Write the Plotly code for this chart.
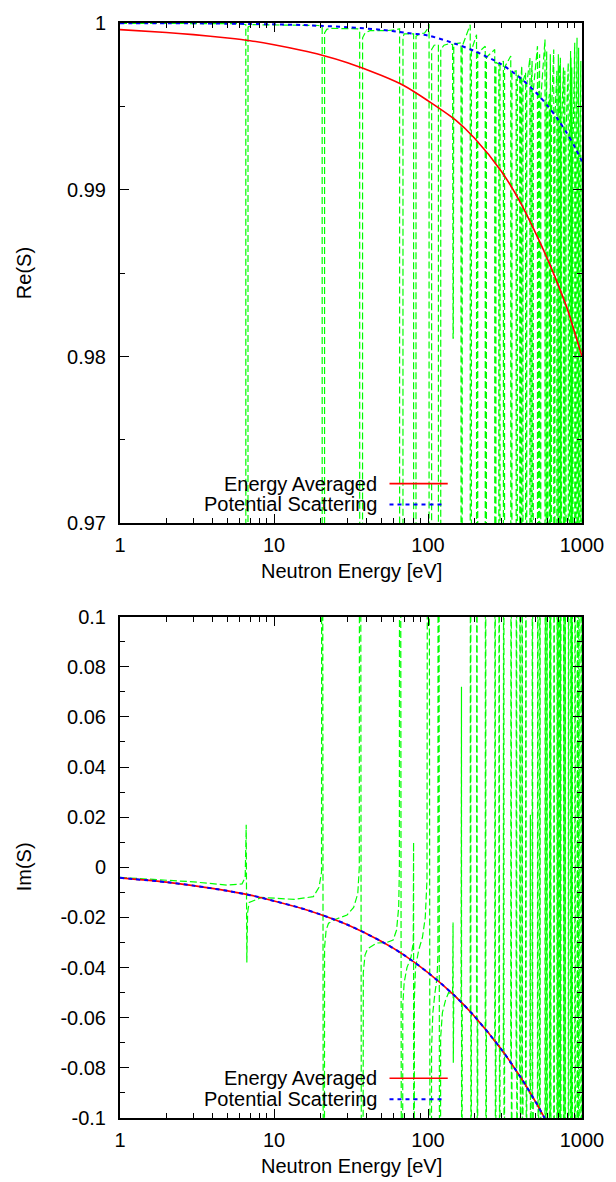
import plotly.graph_objects as go

# ---------------- data ----------------
energy = [1, 2, 3, 5, 7, 10, 15, 20, 30, 50, 70, 100, 150, 200, 300, 400, 500, 600, 700, 800, 900, 1000]
re_avg = [0.99960, 0.99943, 0.99930, 0.99910, 0.99894, 0.99870, 0.99837, 0.99810, 0.99762, 0.99685,
          0.99624, 0.99534, 0.99420, 0.99310, 0.99110, 0.98920, 0.98740, 0.98580, 0.98430, 0.98290,
          0.98140, 0.98000]
re_pot = [0.99999, 0.99998, 0.99998, 0.99996, 0.99994, 0.99992, 0.99988, 0.99983, 0.99975, 0.99959,
          0.99942, 0.99925, 0.99876, 0.99832, 0.99752, 0.99668, 0.99585, 0.99502, 0.99420, 0.99338,
          0.99255, 0.99170]
im_avg = [-0.0042, -0.0059, -0.0073, -0.0094, -0.0111, -0.0134, -0.0163, -0.0188, -0.0229, -0.0296,
          -0.0350, -0.0420, -0.0514, -0.0594, -0.0727, -0.0838, -0.0936, -0.1024, -0.1105, -0.1180,
          -0.1250, -0.1316]
im_pot = [-0.0042, -0.0059, -0.0073, -0.0094, -0.0111, -0.0134, -0.0163, -0.0188, -0.0229, -0.0296,
          -0.0350, -0.0420, -0.0514, -0.0594, -0.0727, -0.0838, -0.0936, -0.1024, -0.1105, -0.1180,
          -0.1250, -0.1316]

# resonance curve below ~140 eV, read point by point
green_re_low_E = [1.0, 6.0, 6.56, 6.62, 6.72, 6.78, 7.2, 19.5, 20.55, 20.7, 21.1, 21.3, 22.0, 23.5,
                  35.0, 36.0, 36.3, 37.2, 37.6, 39.0, 42.0, 55.0, 62.0, 65.4, 65.8, 68.3, 68.8, 70.0,
                  79.5, 80.6, 81.0, 83.0, 83.6, 88.0, 95.0, 98.5, 101.6, 102.0, 105.0, 105.6, 109.7,
                  115.0, 116.8, 117.3, 120.5, 121.0, 127.0, 136.0]
green_re_low_V = [0.99998, 0.99996, 0.99990, 0.40, 0.40, 0.99975, 0.99990, 0.99985, 0.99975, 0.40,
                  0.40, 0.99941, 0.99962, 0.99968, 0.99965, 0.99950, 0.40, 0.40, 0.99911, 0.99940,
                  0.99954, 0.99955, 0.99960, 0.99965, 0.40, 0.40, 0.99915, 0.99935, 0.99935, 0.99935,
                  0.40, 0.40, 0.99920, 0.99935, 0.99940, 0.99960, 0.99994, 0.40, 0.40, 0.99841,
                  0.99867, 0.99870, 0.99870, 0.40, 0.40, 0.99841, 0.99867, 0.99875]
green_im_low_E = [1.0, 3.0, 5.0, 6.2, 6.50, 6.60, 6.66, 6.74, 6.9, 8.3, 13.6, 18.0, 19.6, 20.35,
                  20.5, 21.1, 21.3, 21.8, 22.6, 24.5, 29.8, 32.9, 35.0, 35.8, 36.1, 37.4, 38.0, 39.0,
                  40.5, 46.4, 53.8, 59.4, 62.5, 64.5, 65.2, 65.6, 68.0, 68.6, 70.0, 73.0, 77.5, 80.2,
                  80.6, 81.0, 81.6, 83.0, 87.0, 92.0, 96.0, 98.5, 100.5, 104.5, 105.5, 107.5, 111.0,
                  114.5, 116.0, 116.8, 119.8, 120.8, 124.0, 130.0, 136.0]
green_im_low_V = [-0.0040, -0.0058, -0.0071, -0.0066, -0.0040, 0.0170, -0.0380, -0.0180, -0.0140,
                  -0.0120, -0.0128, -0.0117, -0.0080, -0.0020, 0.5, -0.5, -0.0320, -0.0250, -0.0223,
                  -0.0210, -0.0190, -0.0160, -0.0105, 0.0, 0.5, -0.5, -0.0420, -0.0350, -0.0325,
                  -0.0302, -0.0300, -0.0290, -0.0250, -0.0160, 0.0, 0.5, -0.5, -0.0550, -0.0460,
                  -0.0400, -0.0360, -0.0300, 0.0100, -0.5, -0.0520, -0.0400, -0.0330, -0.0280,
                  -0.0200, -0.0050, 0.5, -0.5, -0.0720, -0.0580, -0.0500, -0.0440, -0.0350, 0.5,
                  -0.5, -0.0680, -0.0580, -0.0530, -0.0500]

# resonances above ~140 eV
res_E = [145.7, 165.3, 189.7, 208.5, 237.4, 273.7, 291.0, 311.4, 347.8, 376.9, 397.6, 410.2,
         434.0, 463.1, 478.4, 518.5, 535.3, 580.2, 595.1, 619.9, 628.4, 661.2, 693.1, 708.4,
         721.7, 730.1, 765.0, 780.8, 821.4, 851.0, 856.1, 866.5, 905.0, 937.0, 958.9, 991.8]
res_re_top = [0.99871, 0.99881, 0.99990, 0.99930, 0.99861, 0.99841, 0.99752, 0.99772, 0.99802,
              0.99713, 0.99693, 0.99742, 0.99703, 0.99792, 0.99772, 0.99861, 0.99812, 0.99901,
              0.99832, 0.99574, 0.99812, 0.99841, 0.99713, 0.99812, 0.99752, 0.99792, 0.99733,
              0.99713, 0.99762, 0.99832, 0.99792, 0.99733, 0.99881, 0.99911, 0.99851, 0.99772]
res_re_min = [0.9811] + [0.40] * 35
res_re_base = [0.99875, 0.99860, 0.99835, 0.99820, 0.99795, 0.99765, 0.99750, 0.99735, 0.99705,
               0.99680, 0.99660, 0.99650, 0.99630, 0.99605, 0.99595, 0.99560, 0.99545, 0.99505,
               0.99495, 0.99475, 0.99470, 0.99440, 0.99415, 0.99400, 0.99390, 0.99385, 0.99355,
               0.99340, 0.99310, 0.99285, 0.99280, 0.99270, 0.99240, 0.99215, 0.99195, 0.99170]
res_im_hi = [-0.022, 0.072] + [0.5] * 11 + [0.021] + [0.5] * 22
res_im_lo = [-0.078] + [-0.5] * 35
res_im_base = [-0.0507, -0.0540, -0.0578, -0.0606, -0.0647, -0.0695, -0.0716, -0.0741, -0.0783,
               -0.0815, -0.0837, -0.0850, -0.0875, -0.0904, -0.0919, -0.0956, -0.0972, -0.1012,
               -0.1025, -0.1046, -0.1053, -0.1080, -0.1106, -0.1118, -0.1128, -0.1135, -0.1162,
               -0.1174, -0.1204, -0.1225, -0.1229, -0.1236, -0.1264, -0.1286, -0.1301, -0.1323]

x_ticks = [1, 10, 100, 1000]
x_ticktext = ["1", "10", "100", "1000"]
re_ticks = [0.97, 0.98, 0.99, 1.0]
re_ticktext = ["0.97", "0.98", "0.99", "1"]
im_ticks = [-0.1, -0.08, -0.06, -0.04, -0.02, 0, 0.02, 0.04, 0.06, 0.08, 0.1]
im_ticktext = ["-0.1", "-0.08", "-0.06", "-0.04", "-0.02", "0", "0.02", "0.04", "0.06", "0.08", "0.1"]

# ---------------- build resonance paths ----------------
OUT, IN = 0.009, 0.002
gre_x, gre_y = list(green_re_low_E), list(green_re_low_V)
gim_x, gim_y = list(green_im_low_E), list(green_im_low_V)
for i, e0 in enumerate(res_E):
    gre_x += [e0 * (1 - OUT), e0 * (1 - IN), e0 * (1 + IN), e0 * (1 + OUT)]
    gre_y += [res_re_top[i], res_re_min[i], res_re_min[i], res_re_base[i]]
    gim_x += [e0 * (1 - OUT), e0 * (1 - IN), e0 * (1 + IN), e0 * (1 + OUT)]
    gim_y += [res_im_base[i], res_im_hi[i], res_im_lo[i], res_im_base[i]]

GREEN = "#00ff00"
RED = "#ff0000"
BLUE = "#0000ff"
FONT = "Liberation Sans, Arial, sans-serif"

fig = go.Figure()
# top panel
fig.add_trace(go.Scatter(x=gre_x, y=gre_y, mode="lines", xaxis="x", yaxis="y",
                         line=dict(color=GREEN, width=1.2, dash="7px,3px", simplify=False)))
fig.add_trace(go.Scatter(x=energy, y=re_avg, mode="lines", xaxis="x", yaxis="y",
                         line=dict(color=RED, width=1.6, shape="spline", smoothing=0.8)))
fig.add_trace(go.Scatter(x=energy, y=re_pot, mode="lines", xaxis="x", yaxis="y",
                         line=dict(color=BLUE, width=2, dash="4px,4px", shape="spline", smoothing=0.8)))
# bottom panel
fig.add_trace(go.Scatter(x=gim_x, y=gim_y, mode="lines", xaxis="x2", yaxis="y2",
                         line=dict(color=GREEN, width=1.2, dash="7px,3px", simplify=False)))
fig.add_trace(go.Scatter(x=energy, y=im_avg, mode="lines", xaxis="x2", yaxis="y2",
                         line=dict(color=RED, width=1.6, shape="spline", smoothing=0.8)))
fig.add_trace(go.Scatter(x=energy, y=im_pot, mode="lines", xaxis="x2", yaxis="y2",
                         line=dict(color=BLUE, width=2, dash="4px,4px", shape="spline", smoothing=0.8)))

H_PLOT = 1182 - 15 - 64
top_dom = [(1118 - 519) / H_PLOT, 1.0]
bot_dom = [0.0, (1118 - 613) / H_PLOT]

minor_x = [v * m for m in (1, 10, 100) for v in range(2, 10)]

def xaxis(anchor):
    return dict(type="log", range=[0, 3], anchor=anchor, tickmode="array", tickvals=x_ticks,
                ticktext=x_ticktext, ticks="inside", ticklen=9, tickwidth=1, tickcolor="black",
                showline=True, linecolor="black", linewidth=2, mirror="ticks", showgrid=False,
                zeroline=False, ticklabelstandoff=3,
                tickfont=dict(family=FONT, size=20, color="black"),
                minor=dict(tickmode="array", tickvals=minor_x, ticks="inside", ticklen=5,
                           tickwidth=1, tickcolor="black", showgrid=False))

def yaxis(anchor, dom, rng, tv, tt, minor_vals):
    return dict(domain=dom, range=rng, anchor=anchor, tickmode="array", tickvals=tv, ticktext=tt,
                ticks="inside", ticklen=9, tickwidth=1, tickcolor="black", showline=True,
                linecolor="black", linewidth=2, mirror="ticks", showgrid=False, zeroline=False,
                ticklabelstandoff=8, tickfont=dict(family=FONT, size=20, color="black"),
                minor=dict(tickmode="array", tickvals=minor_vals, ticks="inside", ticklen=5,
                           tickwidth=1, tickcolor="black", showgrid=False))

fig.update_layout(
    width=616, height=1182,
    margin=dict(l=120, r=28, t=15, b=64),
    paper_bgcolor="white", plot_bgcolor="white",
    showlegend=False,
    font=dict(family=FONT, size=20, color="black"),
    xaxis=xaxis("y"),
    yaxis=yaxis("x", top_dom, [0.97, 1.0], re_ticks, re_ticktext, [0.975, 0.985, 0.995]),
    xaxis2=xaxis("y2"),
    yaxis2=yaxis("x2", bot_dom, [-0.1, 0.1], im_ticks, im_ticktext,
                 [-0.09, -0.07, -0.05, -0.03, -0.01, 0.01, 0.03, 0.05, 0.07, 0.09]),
)

ann = []
for dom, ytitle in ((top_dom, "Re(S)"), (bot_dom, "Im(S)")):
    ann.append(dict(text="Neutron Energy [eV]", xref="paper", yref="paper", x=0.5, y=dom[0],
                    yshift=-48, xanchor="center", yanchor="middle", showarrow=False,
                    font=dict(family=FONT, size=20)))
    ann.append(dict(text=ytitle, xref="paper", yref="paper", x=0, y=(dom[0] + dom[1]) / 2,
                    xshift=-96, textangle=-90, xanchor="center", yanchor="middle",
                    showarrow=False, font=dict(family=FONT, size=20)))

W_PLOT = 616 - 120 - 28
txt_x = (382 - 120) / W_PLOT
l0 = (393 - 120) / W_PLOT
l1_red = (452 - 120) / W_PLOT
l1_blue = (447 - 120) / W_PLOT
shapes = []
for axis_bottom in (519, 1118):
    for off, label, color, x1, dash, w in ((40, "Energy Averaged", RED, l1_red, "solid", 1.6),
                                          (19, "Potential Scattering", BLUE, l1_blue, "4px,4px", 2)):
        yp = (1118 - (axis_bottom - off)) / H_PLOT
        ann.append(dict(text=label, xref="paper", yref="paper", x=txt_x, y=yp, xanchor="right",
                        yanchor="middle", showarrow=False, font=dict(family=FONT, size=20)))
        shapes.append(dict(type="line", xref="paper", yref="paper", x0=l0, x1=x1, y0=yp, y1=yp,
                           line=dict(color=color, width=w, dash=dash)))

fig.update_layout(annotations=ann, shapes=shapes)
fig.write_html("out.html")
